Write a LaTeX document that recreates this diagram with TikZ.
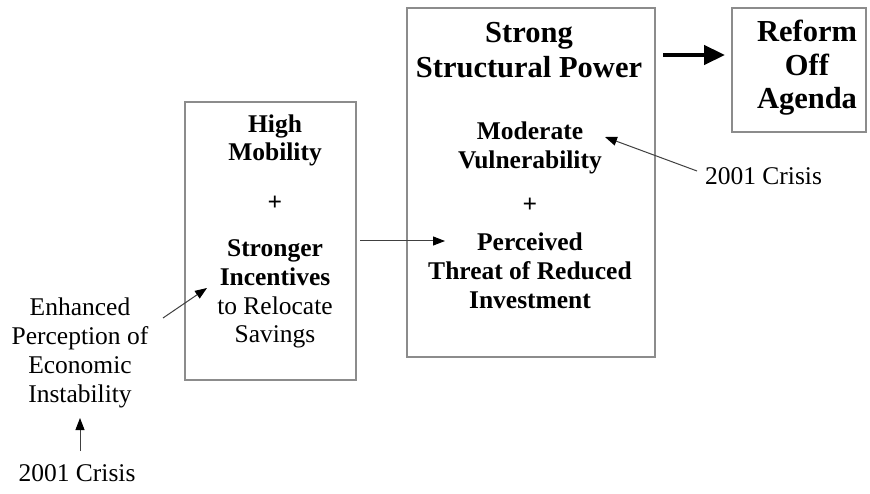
\documentclass[tikz,border=0pt]{standalone}
\usepackage{fontspec}
\setmainfont{Liberation Serif}
\usetikzlibrary{arrows.meta}
\tikzset{
	box/.style={draw=black!45, line width=1.3pt, inner sep=0pt},
	txt/.style={align=center, inner sep=0pt, font=\fontsize{25.5}{#1}\selectfont},
	btxt/.style={align=center, inner sep=0pt, font=\bfseries\fontsize{25.5}{#1}\selectfont},
	head/.style={align=center, inner sep=0pt, font=\bfseries\fontsize{30.5}{#1}\selectfont},
	arr/.style={draw=black!75, line width=1pt, -{Triangle[length=12pt,width=9pt,color=black]}},
	bigarr/.style={draw=black, line width=4.5pt, -{Triangle[length=21pt,width=19pt]}}
}
\begin{document}
\begin{tikzpicture}[x=1pt,y=-1pt]
			\useasboundingbox (0,0) rectangle (870,494);
			
			%Mobility box
			\node (mobbox) [box, minimum width=171pt, minimum height=278pt] at (270.5,241) {};
			\node (mob) [btxt=28pt] at (275,140) {High\\Mobility};
			\node (plusA) [btxt=30pt] at (275,203) {+};
			\node (inc) [txt=28.7pt] at (275,294) {\textbf{Stronger}\\\textbf{Incentives}\\to Relocate\\Savings};
			
			%Power box
			\node (powbox) [box, minimum width=248pt, minimum height=349pt] at (531,182.5) {};
			\node (ssp) [head=35pt] at (529,50) {Strong\\Structural Power};
			\node (vul) [btxt=29pt] at (530,147.5) {Moderate\\Vulnerability};
			\node (plusB) [btxt=30pt] at (530,205) {+};
			\node (thr) [btxt=29pt] at (530,271) {Perceived\\Threat of Reduced\\Investment};
			
			%Reform box
			\node (refbox) [box, minimum width=134pt, minimum height=124pt] at (799,70) {};
			\node (rof) [head=33.5pt] at (807,68) {Reform\\Off\\Agenda};
			
			%Left side and crises
			\node (epi) [txt=29pt] at (80,352.5) {Enhanced\\Perception of\\Economic\\Instability};
			\node (crisisL) [txt=30pt] at (77,473) {2001 Crisis};
			\node (crisisR) [txt=30pt] at (763.5,176) {2001 Crisis};
			
			%Arrows
			\coordinate (eS) at (163,318);
			\coordinate (eT) at (207,288);
			\coordinate (mS) at (360,241);
			\coordinate (mT) at (445,241);
			\coordinate (cS) at (697,171);
			\coordinate (cT) at (605,137);
			\coordinate (lS) at (80,451);
			\coordinate (lT) at (80,418);
			\coordinate (rS) at (663,55);
			\coordinate (rT) at (725,55);
			\draw[arr] (eS) -- (eT);
			\draw[arr] (mS) -- (mT);
			\draw[arr] (cS) -- (cT);
			\draw[arr] (lS) -- (lT);
			\draw[bigarr] (rS) -- (rT);
\end{tikzpicture}
\end{document}
